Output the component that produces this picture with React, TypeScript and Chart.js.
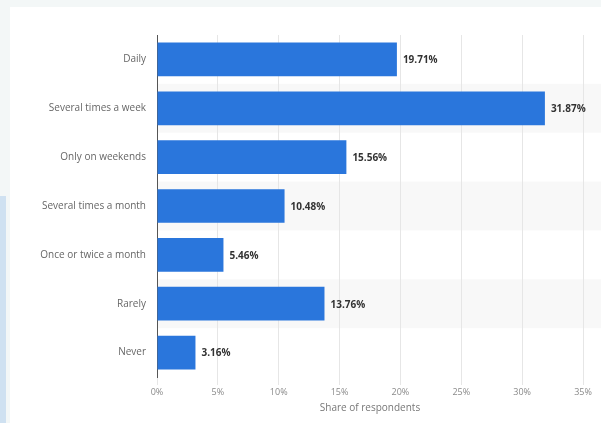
import React, { useEffect, useRef } from "react";
import { Chart, registerables } from "chart.js";

Chart.register(...registerables);

const categories = [
  "Daily",
  "Several times a week",
  "Only on weekends",
  "Several times a month",
  "Once or twice a month",
  "Rarely",
  "Never",
];
const shares = [19.71, 31.87, 15.56, 10.48, 5.46, 13.76, 3.16];
const xTicks = [0, 5, 10, 15, 20, 25, 30, 35];
const axisTitle = "Share of respondents";

const FONT = "'Open Sans', 'Liberation Sans', sans-serif";

const bandPlugin = {
  id: "bands",
  beforeDraw(chart: any) {
    const { ctx, chartArea, scales } = chart;
    const y = scales.y;
    const n = categories.length;
    const slot = (chartArea.bottom - chartArea.top) / n;
    ctx.save();
    ctx.fillStyle = "#f8f8f8";
    for (let i = 0; i < n; i++) {
      if (i % 2 === 1) {
        const c = y.getPixelForValue(i);
        ctx.fillRect(chartArea.left, c - slot / 2, chart.width - chartArea.left, slot);
      }
    }
    ctx.restore();
  },
};

const labelPlugin = {
  id: "valueLabels",
  afterDatasetsDraw(chart: any) {
    const { ctx } = chart;
    const meta = chart.getDatasetMeta(0);
    ctx.save();
    ctx.font = `bold 10px ${FONT}`;
    ctx.fillStyle = "#333333";
    ctx.textAlign = "left";
    ctx.textBaseline = "middle";
    meta.data.forEach((bar: any, i: number) => {
      ctx.fillText(shares[i].toFixed(2) + "%", bar.x + 6, bar.y + 1);
    });
    ctx.restore();
  },
};

export default function App() {
  const ref = useRef<HTMLCanvasElement>(null);
  useEffect(() => {
    document.body.style.margin = "0";
    const chart = new Chart(ref.current!, {
      type: "bar",
      data: {
        labels: categories,
        datasets: [
          {
            data: shares,
            backgroundColor: "#2a76dc",
            barPercentage: 0.69,
            categoryPercentage: 1,
          },
        ],
      },
      options: {
        indexAxis: "y",
        animation: false,
        responsive: false,
        maintainAspectRatio: false,
        layout: { padding: { top: 35, right: 18, bottom: 0, left: 0 } },
        plugins: { legend: { display: false }, tooltip: { enabled: false } },
        scales: {
          x: {
            min: 0,
            max: 35,
            afterBuildTicks: (s: any) => {
              s.ticks = xTicks.map((v) => ({ value: v }));
            },
            afterFit: (s: any) => {
              s.height = 46;
            },
            ticks: {
              callback: (v: any) => v + "%",
              color: "#8a8a8a",
              font: { family: FONT, size: 9 },
              padding: 2,
              maxRotation: 0,
            },
            grid: { color: "#e6e6e6", tickLength: 8, drawTicks: true },
            border: { display: false },
            title: {
              display: true,
              text: axisTitle,
              color: "#777777",
              font: { family: FONT, size: 10 },
              padding: { top: 0, bottom: 9 },
            },
          },
          y: {
            afterFit: (s: any) => {
              s.width = 157;
            },
            ticks: {
              color: "#666666",
              font: { family: FONT, size: 10 },
              padding: 11,
            },
            grid: { display: false, drawTicks: false },
            border: { display: true, color: "#555555", width: 1 },
          },
        },
      },
      plugins: [bandPlugin, labelPlugin],
    });
    return () => chart.destroy();
  }, []);

  return (
    <div
      style={{
        position: "fixed",
        left: 0,
        top: 0,
        width: 601,
        height: 423,
        background: "#f3f7f7",
        overflow: "hidden",
      }}
    >
      <div
        style={{
          position: "absolute",
          left: 0,
          top: 196,
          width: 6,
          height: 227,
          background: "#cfe1f1",
        }}
      />
      <div
        style={{
          position: "absolute",
          left: 10,
          top: 7,
          width: 591,
          height: 416,
          background: "#ffffff",
        }}
      />
      <canvas
        ref={ref}
        width={601}
        height={423}
        style={{ position: "absolute", left: 0, top: 0, width: 601, height: 423 }}
      />
    </div>
  );
}
